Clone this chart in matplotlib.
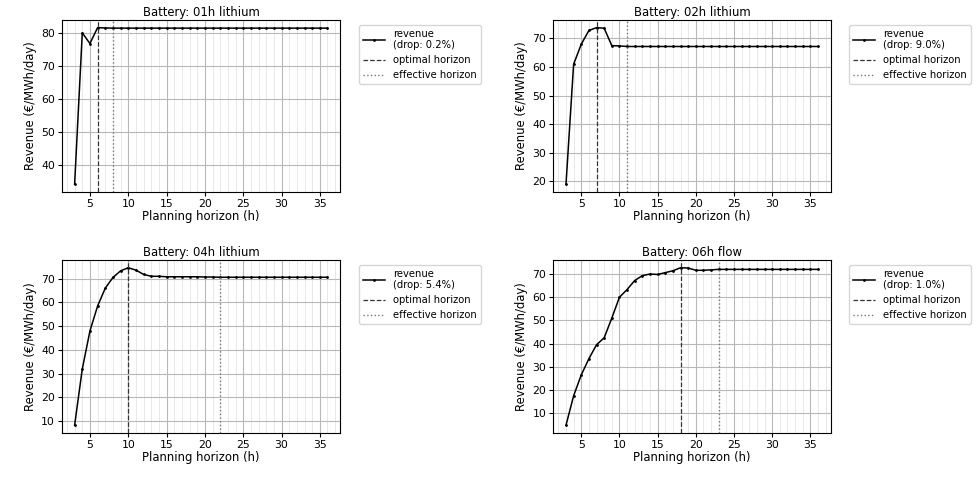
import matplotlib
matplotlib.use("Agg")
import matplotlib.pyplot as plt
from matplotlib.ticker import MultipleLocator

horizons = list(range(3, 37))

titles = ["Battery: 01h lithium", "Battery: 02h lithium", "Battery: 04h lithium", "Battery: 06h flow"]
drops = ["0.2%", "9.0%", "5.4%", "1.0%"]
optimal = [6, 7, 10, 18]
effective = [8, 11, 22, 23]

rev_01h = [34.3, 80.0, 76.8, 81.6, 81.5] + [81.45] * 29
rev_02h = [19.0, 61.0, 68.0, 72.8, 73.8, 73.6, 67.5, 67.4] + [67.2] * 26
rev_04h = [8.3, 32.0, 48.0, 58.5, 66.0, 70.5, 73.3, 74.6, 73.6, 71.8, 71.0, 71.0,
           70.8, 70.8, 70.8, 70.8, 70.8, 70.7, 70.7] + [70.6] * 15
rev_06h = [4.8, 17.5, 26.5, 33.5, 39.5, 42.5, 51.0, 60.0, 63.3, 67.2, 69.3, 70.0,
           69.8, 70.6, 71.4, 72.7, 72.6, 71.6, 71.6, 71.8, 72.0] + [72.0] * 13
series = [rev_01h, rev_02h, rev_04h, rev_06h]

fig = plt.figure(figsize=(9.76, 4.95), dpi=100)
positions = [
    [0.0635, 0.612, 0.285, 0.348],
    [0.567, 0.612, 0.284, 0.348],
    [0.0635, 0.125, 0.285, 0.35],
    [0.567, 0.125, 0.284, 0.35],
]

for i in range(4):
    ax = fig.add_axes(positions[i])
    ax.plot(horizons, series[i], color="black", lw=1.1, marker=".", markersize=2,
            label=f"revenue\n(drop: {drops[i]})")
    ax.axvline(optimal[i], color="#333333", ls="--", lw=0.9, label="optimal horizon")
    ax.axvline(effective[i], color="#777777", ls=":", lw=1.0, label="effective horizon")
    ax.xaxis.set_major_locator(MultipleLocator(5))
    ax.xaxis.set_minor_locator(MultipleLocator(1))
    ax.yaxis.set_major_locator(MultipleLocator(10))
    ax.grid(True, which="major", color="#b8b8b8", lw=0.8)
    ax.grid(True, which="minor", axis="x", color="#e4e4e4", lw=0.6)
    ax.tick_params(which="minor", length=0)
    ax.tick_params(labelsize=7.8, length=3, pad=2)
    ax.set_title(titles[i], fontsize=8.4, pad=3)
    ax.set_xlabel("Planning horizon (h)", fontsize=8.4, labelpad=1)
    ax.set_ylabel("Revenue (€/MWh/day)", fontsize=8.4, labelpad=3)
    ax.legend(loc="upper left", bbox_to_anchor=(1.05, 1.0), fontsize=7.2,
              handlelength=2.2)

fig.savefig("out.png", dpi=100)
